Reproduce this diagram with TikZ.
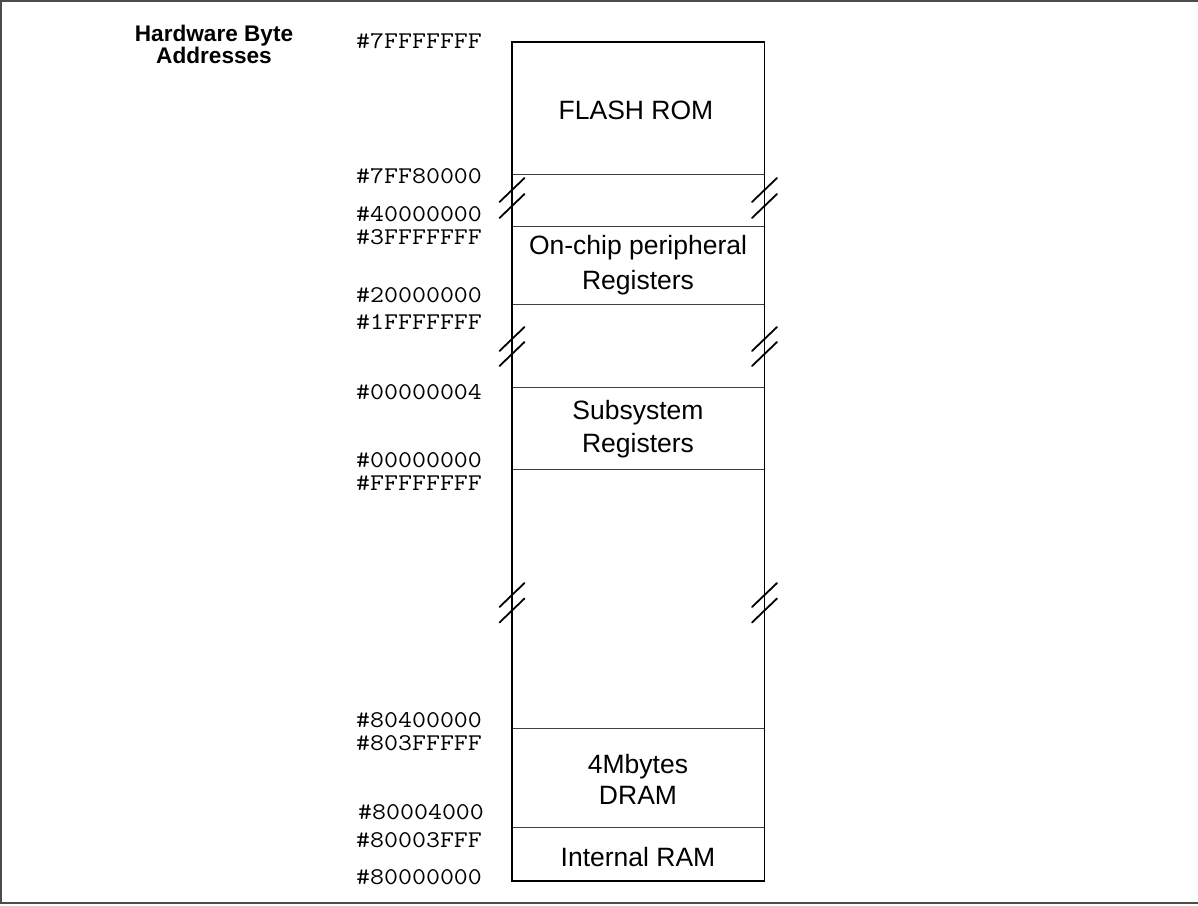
\documentclass[tikz,border=0pt]{standalone}
\usepackage{fontspec}
\setmainfont{Liberation Sans}
\usepackage{graphicx}
\newcommand\addrlbl[1]{\scalebox{1.13}[1]{\fontsize{24}{24}\selectfont\ttfamily #1}}
\newcommand\brkmark[2]{\draw[brk] (#1-12.5,#2+12) -- (#1+12.5,#2-12);}
\begin{document}
\begin{tikzpicture}[x=1pt,y=-1pt,
  addr/.style={anchor=base west,inner sep=0pt,text height=15pt,text depth=0pt},
  region/.style={anchor=base,inner sep=0pt,font=\fontsize{26.5}{32}\selectfont},
  titletext/.style={anchor=base,inner sep=0pt,font=\bfseries\fontsize{22.6}{22}\selectfont},
  boxline/.style={line width=1.8pt,black},
  divline/.style={line width=1pt,black!75},
  brk/.style={line width=1.8pt,black,line cap=round},
  frameline/.style={line width=2pt,black!70}]
\useasboundingbox (0,0) rectangle (1198,905);
% outer frame (open on the right)
\draw[frameline] (1198,1) -- (1,1) -- (1,903) -- (1198,903);

% title
\node[titletext] (t1) at (214,41) {Hardware Byte};
\node[titletext] (t2) at (214,63) {Addresses};

% memory box
\coordinate (tl) at (512,42);
\coordinate (br) at (764.5,881);
\foreach \yy/\nm in {174/d1,226/d2,304.5/d3,387/d4,469/d5,728/d6,827.5/d7}{
  \coordinate (\nm l) at (512,\yy);
  \coordinate (\nm r) at (764.5,\yy);
  \draw[divline] (\nm l) -- (\nm r);
}
\draw[boxline] (tl) rectangle (br);

% break marks
\foreach \yy in {190,206,339,354,595,610.5}{
  \brkmark{512}{\yy}
  \brkmark{764.5}{\yy}
}

% region labels
\node[region] (flash) at (636,119) {FLASH ROM};
\node[region] (onchip1) at (638,254) {On-chip peripheral};
\node[region] (onchip2) at (638,289) {Registers};
\node[region] (sub1) at (638,419) {Subsystem};
\node[region] (sub2) at (638,452) {Registers};
\node[region] (dram1) at (638,773) {4Mbytes};
\node[region] (dram2) at (638,804) {DRAM};
\node[region] (iram) at (638,866) {Internal RAM};

% addresses
\node[addr] (a1) at (356,48) {\addrlbl{\#7FFFFFFF}};
\node[addr] (a2) at (356,183) {\addrlbl{\#7FF80000}};
\node[addr] (a3) at (356,221) {\addrlbl{\#40000000}};
\node[addr] (a4) at (356,244) {\addrlbl{\#3FFFFFFF}};
\node[addr] (a5) at (356,302) {\addrlbl{\#20000000}};
\node[addr] (a6) at (356,329) {\addrlbl{\#1FFFFFFF}};
\node[addr] (a7) at (356,399) {\addrlbl{\#00000004}};
\node[addr] (a8) at (356,467) {\addrlbl{\#00000000}};
\node[addr] (a9) at (356,490) {\addrlbl{\#FFFFFFFF}};
\node[addr] (a10) at (356,727) {\addrlbl{\#80400000}};
\node[addr] (a11) at (356,750) {\addrlbl{\#803FFFFF}};
\node[addr] (a12) at (358,819) {\addrlbl{\#80004000}};
\node[addr] (a13) at (356,847) {\addrlbl{\#80003FFF}};
\node[addr] (a14) at (356,884) {\addrlbl{\#80000000}};
\end{tikzpicture}
\end{document}
